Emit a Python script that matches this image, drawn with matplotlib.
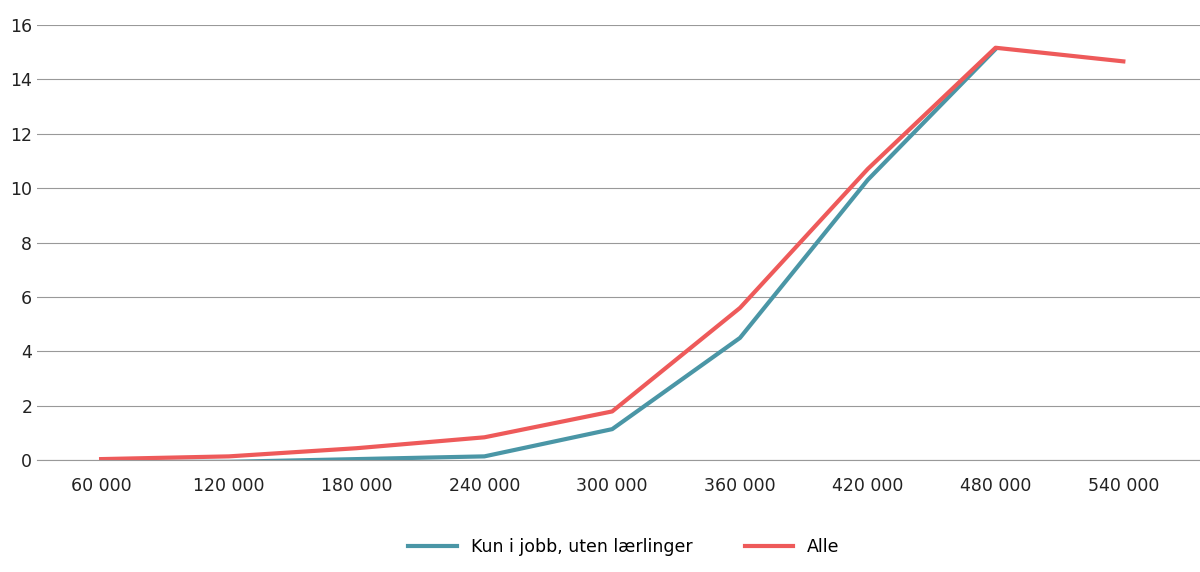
import numpy as np
import matplotlib.pyplot as plt

# Category labels (income levels) and series values
categories = ["60 000", "120 000", "180 000", "240 000", "300 000",
              "360 000", "420 000", "480 000", "540 000"]
kun_i_jobb = [-0.05, -0.05, 0.05, 0.15, 1.15, 4.5, 10.3, 15.1, np.nan]
alle = [0.05, 0.15, 0.45, 0.85, 1.8, 5.6, 10.7, 15.15, 14.65]

fig = plt.figure(figsize=(12, 5.72), dpi=100)
ax = fig.add_axes([0.031, 0.195, 0.969, 0.762])

x = np.arange(len(categories))
ax.plot(x, kun_i_jobb, color="#4a96a6", lw=3, label="Kun i jobb, uten lærlinger")
ax.plot(x, alle, color="#ee5a5a", lw=3, label="Alle")

ax.set_xlim(-0.5, len(categories) - 0.4)
ax.set_ylim(0, 16)
ax.set_yticks(range(0, 17, 2))
ax.set_xticks(x)
ax.set_xticklabels(categories)
ax.tick_params(length=0, labelsize=12.5, colors="#222222")
ax.tick_params(axis="x", pad=12)
ax.grid(axis="y", color="#999999", lw=0.8)
ax.set_axisbelow(True)
for s in ["top", "right", "left"]:
    ax.spines[s].set_visible(False)
ax.spines["bottom"].set_color("#999999")

fig.legend(loc="lower center", ncol=2, frameon=False, fontsize=12.5,
           bbox_to_anchor=(0.52, 0.0), handlelength=2.8, columnspacing=3)

fig.savefig("out.png")
